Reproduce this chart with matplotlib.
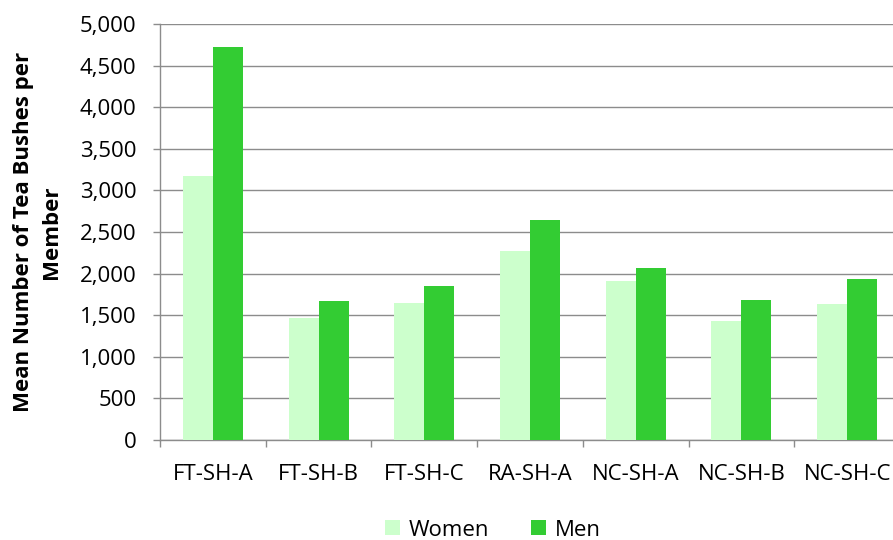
import matplotlib
matplotlib.use("Agg")
import matplotlib.pyplot as plt
import numpy as np
from matplotlib.ticker import FuncFormatter, MultipleLocator, FixedLocator

plt.rcParams['font.family'] = ['Open Sans', 'DejaVu Sans']

categories = ["FT-SH-A", "FT-SH-B", "FT-SH-C", "RA-SH-A", "NC-SH-A", "NC-SH-B", "NC-SH-C"]
women = [3173, 1472, 1641, 2272, 1916, 1436, 1640]
men = [4723, 1673, 1853, 2644, 2068, 1684, 1936]
series_names = ["Women", "Men"]
colors = ["#CCFFCC", "#33CC33"]

W, H = 893, 540
fig = plt.figure(figsize=(W / 100, H / 100), dpi=100)
ax = fig.add_axes([160 / W, 100 / H, 740 / W, 416 / H])

x = np.arange(len(categories))
bw = 0.284
ax.bar(x - bw / 2, women, width=bw, color=colors[0], label=series_names[0], zorder=3)
ax.bar(x + bw / 2, men, width=bw, color=colors[1], label=series_names[1], zorder=3)

ax.set_xlim(-0.5, len(categories) - 0.5)
ax.set_ylim(0, 5000)
ax.yaxis.set_major_locator(MultipleLocator(500))
ax.yaxis.set_major_formatter(FuncFormatter(lambda v, p: f"{int(v):,}"))
ax.grid(axis='y', color='#8c8c8c', linewidth=1.0, zorder=0)
ax.set_axisbelow(True)

for s in ['top', 'right']:
    ax.spines[s].set_visible(False)
for s in ['left', 'bottom']:
    ax.spines[s].set_color('#8c8c8c')
    ax.spines[s].set_linewidth(1.0)

ax.set_xticks(x)
ax.set_xticklabels(categories)
ax.xaxis.set_minor_locator(FixedLocator(np.arange(-0.5, len(categories), 1.0)))
ax.tick_params(axis='x', which='major', length=0, pad=17, labelsize=16, colors='black')
ax.tick_params(axis='x', which='minor', length=5, width=1.0, color='#8c8c8c', direction='out')
ax.tick_params(axis='y', length=5, width=1.0, color='#8c8c8c', pad=12, labelsize=16, labelcolor='black')

ax.set_ylabel("Mean Number of Tea Bushes per\nMember", fontsize=16, fontweight='bold',
              linespacing=1.45)
ax.yaxis.set_label_coords(-0.132, 0.5)

fig.legend(loc='center', bbox_to_anchor=(493 / W, 1 - 530 / H), ncol=2, frameon=False,
           fontsize=16, handlelength=0.65, handleheight=0.65, handletextpad=0.4,
           columnspacing=1.9, borderaxespad=0, borderpad=0)

fig.savefig("out.png", dpi=100)
